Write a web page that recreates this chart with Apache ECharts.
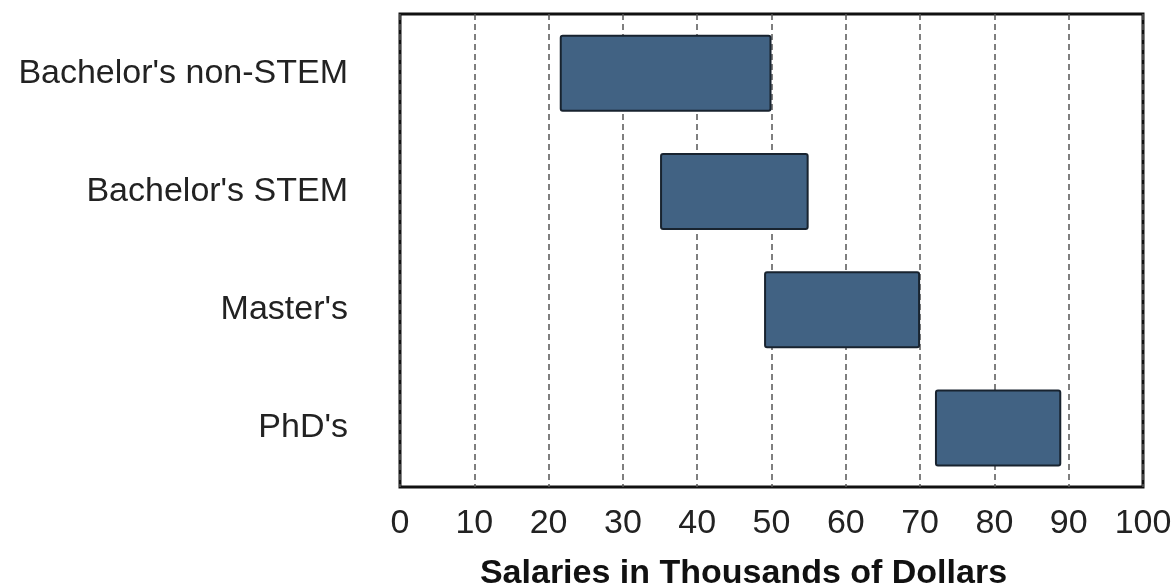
<!DOCTYPE html>
<html>
<head>
<meta charset="utf-8">
<script src="https://cdn.jsdelivr.net/npm/echarts@6/dist/echarts.min.js"></script>
<style>
html,body{margin:0;padding:0;background:#fff;}
#chart{width:1175px;height:585px;}
</style>
</head>
<body>
<div id="chart"></div>
<script>
const categories = ["Bachelor's non-STEM", "Bachelor's STEM", "Master's", "PhD's"];
const lowSalary = [21.5, 35, 49, 72];
const highSalary = [50, 55, 70, 89];
const xTicks = [0, 10, 20, 30, 40, 50, 60, 70, 80, 90, 100];
const xTitle = 'Salaries in Thousands of Dollars';

const rangeLen = highSalary.map((h, i) => h - lowSalary[i]);

const chart = echarts.init(document.getElementById('chart'), null, {renderer: 'canvas'});
chart.setOption({
  animation: false,
  backgroundColor: '#ffffff',
  grid: {
    left: 400, right: 32, top: 14, bottom: 98,
    containLabel: false,
    outerBoundsMode: 'none',
    show: true, borderColor: '#111111', borderWidth: 3, backgroundColor: 'transparent'
  },
  xAxis: {
    type: 'value',
    min: xTicks[0], max: xTicks[xTicks.length - 1], interval: 10,
    axisLine: {show: false},
    axisTick: {show: false},
    splitLine: {show: true, lineStyle: {color: '#555555', width: 1.5, type: [6, 4]}},
    axisLabel: {
      margin: 20, fontSize: 34, color: '#222222', fontFamily: 'Liberation Sans, Arial, sans-serif',
      formatter: v => xTicks.includes(v) ? String(v) : ''
    },
    name: xTitle,
    nameLocation: 'center',
    nameGap: 70,
    nameTextStyle: {
      fontSize: 34, fontWeight: 'bold', color: '#111111',
      fontFamily: 'Liberation Sans, Arial, sans-serif',
      padding: [0, 56, 0, 0]
    }
  },
  yAxis: {
    type: 'category',
    data: categories,
    inverse: true,
    axisLine: {show: false},
    axisTick: {show: false},
    splitLine: {show: false},
    axisLabel: {
      margin: 52, fontSize: 34, color: '#222222', fontFamily: 'Liberation Sans, Arial, sans-serif'
    }
  },
  series: [
    {
      type: 'bar', stack: 'range', data: lowSalary, barWidth: 77,
      itemStyle: {color: 'transparent'}, silent: true
    },
    {
      type: 'bar', stack: 'range', data: rangeLen, barWidth: 77,
      itemStyle: {color: '#416283', borderColor: '#18232f', borderWidth: 2, borderRadius: 2}
    }
  ]
});
</script>
</body>
</html>
